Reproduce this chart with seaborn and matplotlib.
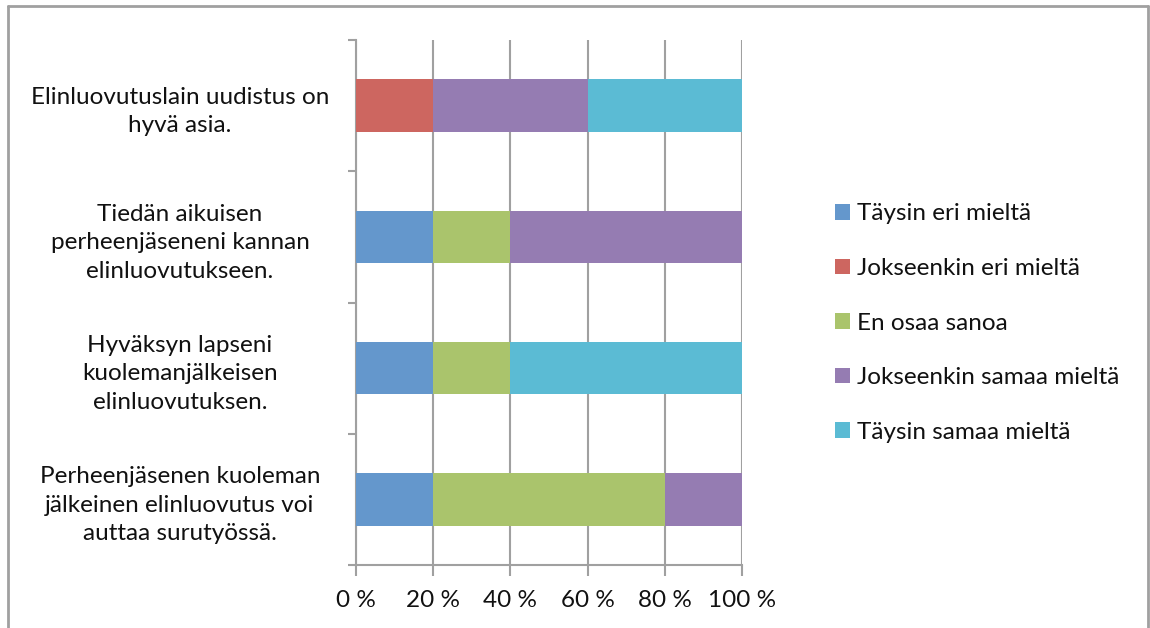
import matplotlib
matplotlib.use("Agg")
import matplotlib.pyplot as plt
from matplotlib.patches import Patch
from matplotlib.lines import Line2D
import numpy as np
import pandas as pd
import seaborn as sns

statements = [
    "Elinluovutuslain uudistus on\nhyvä asia.",
    "Tiedän aikuisen\nperheenjäseneni kannan\nelinluovutukseen.",
    "Hyväksyn lapseni\nkuolemanjälkeisen\nelinluovutuksen.",
    "Perheenjäsenen kuoleman\njälkeinen elinluovutus voi\nauttaa surutyössä.",
]
series = ["Täysin eri mieltä", "Jokseenkin eri mieltä", "En osaa sanoa",
          "Jokseenkin samaa mieltä", "Täysin samaa mieltä"]
taysin_eri = [0, 20, 20, 20]
jokseenkin_eri = [20, 0, 0, 0]
en_osaa = [0, 20, 20, 60]
jokseenkin_samaa = [40, 60, 0, 20]
taysin_samaa = [40, 0, 60, 0]
x_ticks = [0, 20, 40, 60, 80, 100]
x_labels = ["0 %", "20 %", "40 %", "60 %", "80 %", "100 %"]

colors = ["#6497CC", "#CD6660", "#AAC46C", "#957CB2", "#5BBBD4"]
FS = 17.5

sns.set_theme(style="white")
plt.rcParams["font.family"] = ["Lato", "DejaVu Sans"]

values = np.array([taysin_eri, jokseenkin_eri, en_osaa, jokseenkin_samaa, taysin_samaa], dtype=float)
cum = np.cumsum(values, axis=0)

fig = plt.figure(figsize=(11.5, 6.28), dpi=100)
ax = fig.add_axes([356 / 1150, 1 - 565 / 628, (742 - 356) / 1150, (565 - 40) / 628])

# stacked bars: draw cumulative totals from the outermost segment inward
for i in range(len(series) - 1, -1, -1):
    df = pd.DataFrame({"statement": statements, "total": cum[i]})
    sns.barplot(data=df, x="total", y="statement", orient="h", color=colors[i],
                saturation=1, width=0.4, ax=ax, zorder=3, linewidth=0)

ax.set_xlim(0, 100)
ax.set_ylim(3.5, -0.5)
ax.set_xlabel("")
ax.set_ylabel("")

ax.set_xticks(x_ticks)
ax.set_xticklabels(x_labels, fontsize=FS, color="#111111")
ax.xaxis.grid(True, color="#a0a0a0", linewidth=1.5, zorder=0)
ax.set_axisbelow(True)

ax.set_yticks(range(len(statements)))
ax.set_yticklabels(statements, fontsize=FS, color="#111111", ha="center",
                   multialignment="center", linespacing=1.45)
ax.set_yticks(np.arange(-0.5, len(statements), 1.0), minor=True)
ax.tick_params(axis="y", which="major", length=0, pad=0)
ax.tick_params(axis="y", which="minor", length=6, width=1.5, color="#a0a0a0", direction="out", left=True)
ax.tick_params(axis="x", which="major", length=8, width=1.5, color="#a0a0a0", direction="out",
               bottom=True, pad=10)
for lbl in ax.get_yticklabels():
    lbl.set_transform(ax.get_yaxis_transform())
    lbl.set_position((-(356 - 180) / (742 - 356), lbl.get_position()[1]))

for side in ["top", "right"]:
    ax.spines[side].set_visible(False)
for side in ["left", "bottom"]:
    ax.spines[side].set_color("#a0a0a0")
    ax.spines[side].set_linewidth(1.5)

handles = [Patch(facecolor=c, edgecolor="none") for c in colors]
fig.legend(handles, series, loc="center left", bbox_to_anchor=(813 / 1150, 1 - 323 / 628),
           frameon=False, fontsize=FS, handlelength=0.62, handleheight=0.62,
           handletextpad=0.3, labelspacing=1.38, labelcolor="#111111")

# outer chart border
border = dict(color="#a0a0a0", linewidth=2, transform=fig.transFigure)
fig.add_artist(Line2D([8 / 1150, 8 / 1150], [0, 1 - 6 / 628], **border))
fig.add_artist(Line2D([8 / 1150, 1148 / 1150], [1 - 6 / 628, 1 - 6 / 628], **border))
fig.add_artist(Line2D([1148 / 1150, 1148 / 1150], [0, 1 - 6 / 628], **border))

fig.savefig("out.png", dpi=100, facecolor="white")
